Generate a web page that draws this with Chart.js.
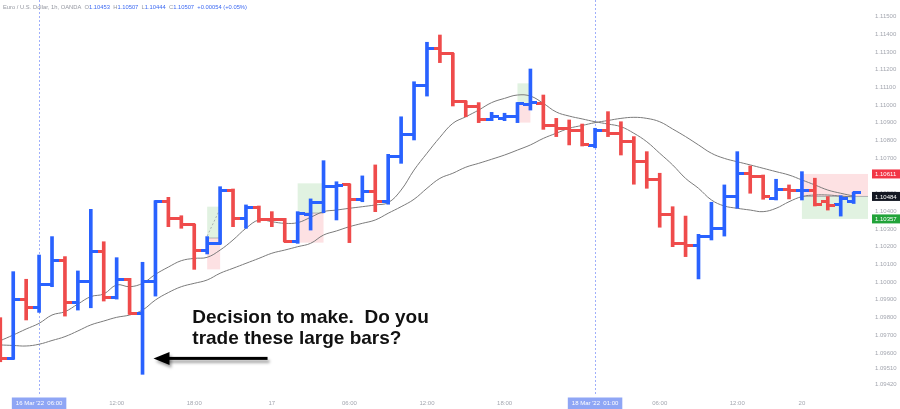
<!DOCTYPE html>
<html>
<head>
<meta charset="utf-8">
<script src="https://cdn.jsdelivr.net/npm/chart.js@4.4.1/dist/chart.umd.min.js"></script>
<style>
  html, body { margin: 0; padding: 0; background: #fff; }
</style>
</head>
<body>
<canvas id="chart" width="900" height="409"></canvas>
<script>
// EUR/USD 1h bars, 16 Mar '22 03:00 onwards (one entry per bar)
const opens = [
  1.09775, 1.09571, 1.09904, 1.09859, 1.09985, 1.10123, 1.09884, 1.10001, 1.10172, 1.09914,
  1.10012, 1.09824, 1.10002, 1.10454, 1.10357, 1.10323, 1.10180, 1.10219, 1.10520, 1.10360,
  1.10420, 1.10355, 1.10351, 1.10232, 1.10380, 1.10449, 1.10539, 1.10549, 1.10468, 1.10511,
  1.10454, 1.10712, 1.10835, 1.11110, 1.11321, 1.11289, 1.11019, 1.10991, 1.10920, 1.10925,
  1.10934, 1.11006, 1.11010, 1.10882, 1.10865, 1.10854, 1.10769, 1.10855, 1.10841, 1.10793,
  1.10680, 1.10581, 1.10383, 1.10219, 1.10206, 1.10257, 1.10304, 1.10483, 1.10611, 1.10596,
  1.10473, 1.10524, 1.10516, 1.10520, 1.10454, 1.10436, 1.10453
];
const highs = [
  1.09799, 1.10059, 1.10016, 1.10153, 1.10257, 1.10144, 1.10063, 1.10411, 1.10228, 1.10138,
  1.10021, 1.10112, 1.10460, 1.10479, 1.10375, 1.10327, 1.10257, 1.10539, 1.10526, 1.10436,
  1.10430, 1.10398, 1.10360, 1.10398, 1.10470, 1.10686, 1.10567, 1.10554, 1.10600, 1.10662,
  1.10722, 1.10934, 1.11132, 1.11355, 1.11396, 1.11293, 1.11023, 1.11014, 1.10959, 1.10954,
  1.11014, 1.11204, 1.11057, 1.10925, 1.10916, 1.10893, 1.10869, 1.10963, 1.10906, 1.10822,
  1.10737, 1.10615, 1.10426, 1.10373, 1.10270, 1.10451, 1.10549, 1.10737, 1.10656, 1.10605,
  1.10581, 1.10549, 1.10624, 1.10587, 1.10483, 1.10488, 1.10507
];
const lows = [
  1.09550, 1.09564, 1.09786, 1.09829, 1.09974, 1.09808, 1.09842, 1.09855, 1.09893, 1.09904,
  1.09818, 1.09479, 1.09921, 1.10313, 1.10304, 1.10072, 1.10159, 1.10215, 1.10313, 1.10304,
  1.10338, 1.10313, 1.10228, 1.10219, 1.10294, 1.10392, 1.10351, 1.10223, 1.10454, 1.10398,
  1.10440, 1.10671, 1.10803, 1.11051, 1.11240, 1.10995, 1.10934, 1.10901, 1.10912, 1.10912,
  1.10901, 1.10972, 1.10863, 1.10822, 1.10775, 1.10769, 1.10759, 1.10822, 1.10718, 1.10553,
  1.10530, 1.10310, 1.10200, 1.10144, 1.10018, 1.10238, 1.10260, 1.10417, 1.10502, 1.10468,
  1.10464, 1.10470, 1.10464, 1.10430, 1.10407, 1.10373, 1.10444
];
const closes = [
  1.09571, 1.09904, 1.09859, 1.09985, 1.10123, 1.09884, 1.10001, 1.10172, 1.09914, 1.10012,
  1.09824, 1.10002, 1.10454, 1.10357, 1.10323, 1.10180, 1.10219, 1.10520, 1.10360, 1.10420,
  1.10355, 1.10351, 1.10232, 1.10389, 1.10449, 1.10539, 1.10545, 1.10468, 1.10511, 1.10454,
  1.10712, 1.10835, 1.11110, 1.11321, 1.11289, 1.11019, 1.10991, 1.10920, 1.10934, 1.10938,
  1.11010, 1.11012, 1.10882, 1.10865, 1.10854, 1.10775, 1.10855, 1.10841, 1.10793, 1.10680,
  1.10581, 1.10383, 1.10219, 1.10206, 1.10257, 1.10304, 1.10483, 1.10611, 1.10596, 1.10483,
  1.10524, 1.10520, 1.10520, 1.10436, 1.10430, 1.10470, 1.10507
];

// moving averages
const fastMA = [
  1.09669, 1.09701, 1.09735, 1.09767, 1.09814, 1.09833, 1.09876, 1.09918, 1.09933, 1.09984,
  1.09974, 1.09993, 1.10044, 1.10085, 1.10121, 1.10134, 1.10140, 1.10181, 1.10238, 1.10304,
  1.10351, 1.10341, 1.10332, 1.10336, 1.10366, 1.10398, 1.10407, 1.10417, 1.10426, 1.10436,
  1.10449, 1.10520, 1.10633, 1.10728, 1.10818, 1.10897, 1.10934, 1.10972, 1.11014, 1.11038,
  1.11057, 1.11051, 1.11010, 1.10961, 1.10938, 1.10922, 1.10906, 1.10893, 1.10878, 1.10841,
  1.10793, 1.10728, 1.10662, 1.10586, 1.10530, 1.10464, 1.10430, 1.10417, 1.10407, 1.10398,
  1.10417, 1.10454, 1.10483, 1.10492, 1.10492, 1.10486, 1.10481
];
const slowMA = [
  1.09645, 1.09642, 1.09639, 1.09649, 1.09670, 1.09692, 1.09724, 1.09758, 1.09780, 1.09801,
  1.09814, 1.09842, 1.09899, 1.09941, 1.09974, 1.09993, 1.10012, 1.10050, 1.10078, 1.10106,
  1.10134, 1.10163, 1.10181, 1.10200, 1.10219, 1.10266, 1.10289, 1.10313, 1.10332, 1.10351,
  1.10389, 1.10426, 1.10468, 1.10530, 1.10586, 1.10615, 1.10649, 1.10671, 1.10694, 1.10718,
  1.10746, 1.10775, 1.10812, 1.10841, 1.10869, 1.10885, 1.10901, 1.10913, 1.10925, 1.10931,
  1.10925, 1.10906, 1.10865, 1.10822, 1.10775, 1.10728, 1.10699, 1.10680, 1.10662, 1.10643,
  1.10624, 1.10605, 1.10577, 1.10549, 1.10520, 1.10502, 1.10486
];

const timeTicks = [3, 9, 15, 21, 27, 33, 39, 46, 51, 57, 62];
const timeLabels = ["16 Mar '22  06:00", '12:00', '18:00', '17', '06:00', '12:00', '18:00',
                    "18 Mar '22  01:00", '06:00', '12:00', '20'];
const markedTimes = [3, 46];
const priceTicks = [1.115, 1.114, 1.113, 1.112, 1.111, 1.110, 1.109, 1.108, 1.107, 1.106, 1.105,
                    1.104, 1.103, 1.102, 1.101, 1.100, 1.099, 1.098, 1.097, 1.096, 1.0951, 1.0942];

// long / short position tools
const toolFrom  = [16, 23, 40, 62];
const toolTo    = [17, 25, 41, 67.2];
const toolUpper = [1.10426, 1.10558, 1.11123, 1.10611];
const toolEntry = [1.10249, 1.10390, 1.11006, 1.10484];
const toolLower = [1.10072, 1.10223, 1.10901, 1.10357];
const toolShort = [false, false, false, true];

const noteLines = ['Decision to make.  Do you', 'trade these large bars?'];

const upColor = '#2962ff';
const downColor = '#ef4b4b';
const FONT = '"Liberation Sans", Arial, sans-serif';

const idx = closes.map((c, i) => i);
const isUp = i => closes[i] >= opens[i];

function tickImage(color, side) {
    let c = document.createElement('canvas');
    c.width = 14;
    c.height = 3;
    let g = c.getContext('2d');
    g.fillStyle = color;
    if (side === 'open') g.fillRect(0, 0, 8, 3);
    else g.fillRect(6, 0, 8, 3);
    return c;
}
const openUp = tickImage(upColor, 'open'), openDown = tickImage(downColor, 'open');
const closeUp = tickImage(upColor, 'close'), closeDown = tickImage(downColor, 'close');

const overlay = {
    id: 'overlay',
    beforeDatasetsDraw(chart) {
        const {ctx, chartArea: a, scales: {x, y}} = chart;
        ctx.save();
        ctx.beginPath();
        ctx.rect(a.left, a.top, a.right - a.left, a.bottom - a.top);
        ctx.clip();
        toolFrom.forEach((f, k) => {
            let x0 = x.getPixelForValue(f), x1 = x.getPixelForValue(toolTo[k]);
            let yu = y.getPixelForValue(toolUpper[k]);
            let ye = y.getPixelForValue(toolEntry[k]);
            let yl = y.getPixelForValue(toolLower[k]);
            const green = 'rgba(76,175,80,0.17)', pink = 'rgba(242,54,69,0.15)';
            ctx.fillStyle = toolShort[k] ? pink : green;
            ctx.fillRect(x0, yu, x1 - x0, ye - yu);
            ctx.fillStyle = toolShort[k] ? green : pink;
            ctx.fillRect(x0, ye, x1 - x0, yl - ye);
            ctx.strokeStyle = 'rgba(120,123,134,0.55)';
            ctx.lineWidth = 1;
            ctx.beginPath();
            ctx.moveTo(x0, ye);
            ctx.lineTo(x1, ye);
            ctx.stroke();
            if (k === 0) {
                ctx.setLineDash([2, 2]);
                ctx.beginPath();
                ctx.moveTo(x0, ye - 2);
                ctx.lineTo(x1, yu + 2);
                ctx.stroke();
                ctx.setLineDash([]);
            }
        });
        ctx.restore();

        ctx.save();
        ctx.strokeStyle = 'rgba(80,110,245,0.55)';
        ctx.lineWidth = 1;
        ctx.setLineDash([2, 2]);
        markedTimes.forEach(t => {
            let px = Math.round(x.getPixelForValue(t)) + 0.5;
            ctx.beginPath();
            ctx.moveTo(px, 0);
            ctx.lineTo(px, a.bottom);
            ctx.stroke();
        });
        ctx.restore();
    },
    afterDraw(chart) {
        const {ctx, chartArea: a, scales: {x, y}} = chart;
        ctx.save();

        // price labels of the last position tool
        const k = 3;
        [[toolUpper[k], '#f23645'], [toolEntry[k], '#131722'], [toolLower[k], '#22a33a']].forEach(([p, col]) => {
            let py = y.getPixelForValue(p);
            ctx.fillStyle = col;
            ctx.fillRect(a.right + 4, py - 4.5, chart.width - a.right - 4, 9);
            ctx.fillStyle = '#ffffff';
            ctx.font = '6px ' + FONT;
            ctx.textBaseline = 'middle';
            ctx.textAlign = 'left';
            ctx.fillText(p.toFixed(5), a.right + 7, py + 0.5);
        });

        // header
        const gray = '#9598a1', blue = '#3d6af2';
        const parts = [['Euro / U.S. Dollar, 1h, OANDA  ', gray], ['O', gray], ['1.10453', blue],
                       ['  H', gray], ['1.10507', blue], ['  L', gray], ['1.10444', blue],
                       ['  C', gray], ['1.10507', blue], ['  +0.00054 (+0.05%)', blue]];
        ctx.font = '5.8px ' + FONT;
        ctx.textBaseline = 'middle';
        ctx.textAlign = 'left';
        let hx = 3;
        parts.forEach(([t, c]) => {
            ctx.fillStyle = c;
            ctx.fillText(t, hx, 7);
            hx += ctx.measureText(t).width;
        });

        // note and arrow
        ctx.fillStyle = '#111111';
        ctx.font = 'bold 19px ' + FONT;
        ctx.textBaseline = 'alphabetic';
        ctx.fillText(noteLines[0], x.getPixelForValue(14.85), y.getPixelForValue(1.09769));
        ctx.fillText(noteLines[1], x.getPixelForValue(14.85), y.getPixelForValue(1.09653));

        let tipX = x.getPixelForValue(11.85), endX = x.getPixelForValue(20.67);
        let ay = y.getPixelForValue(1.09569);
        ctx.shadowColor = 'rgba(0,0,0,0.35)';
        ctx.shadowBlur = 3;
        ctx.shadowOffsetX = 2;
        ctx.shadowOffsetY = 3;
        ctx.fillStyle = '#000000';
        ctx.fillRect(tipX + 12, ay - 1.5, endX - tipX - 12, 3);
        ctx.beginPath();
        ctx.moveTo(tipX, ay);
        ctx.lineTo(tipX + 16, ay - 6.5);
        ctx.lineTo(tipX + 16, ay + 6.5);
        ctx.closePath();
        ctx.fill();
        ctx.restore();
    }
};

new Chart(document.getElementById('chart'), {
    type: 'bar',
    data: {
        datasets: [
            {
                type: 'line',
                data: idx.map(i => ({x: i, y: fastMA[i]})),
                borderColor: '#7b7b7b',
                borderWidth: 1,
                pointRadius: 0,
                tension: 0.4,
                order: 4
            },
            {
                type: 'line',
                data: idx.map(i => ({x: i, y: slowMA[i]})),
                borderColor: '#7b7b7b',
                borderWidth: 1,
                pointRadius: 0,
                tension: 0.4,
                order: 3
            },
            {
                type: 'bar',
                data: idx.map(i => ({x: i, y: [lows[i], highs[i]]})),
                backgroundColor: idx.map(i => isUp(i) ? upColor : downColor),
                barThickness: 3,
                borderWidth: 0,
                order: 2
            },
            {
                type: 'line',
                showLine: false,
                data: idx.map(i => ({x: i, y: opens[i]})),
                pointStyle: c => isUp(c.dataIndex) ? openUp : openDown,
                pointRadius: 3,
                order: 1
            },
            {
                type: 'line',
                showLine: false,
                data: idx.map(i => ({x: i, y: closes[i]})),
                pointStyle: c => isUp(c.dataIndex) ? closeUp : closeDown,
                pointRadius: 3,
                order: 0
            }
        ]
    },
    options: {
        responsive: false,
        animation: false,
        layout: { padding: 0, autoPadding: false },
        plugins: {
            legend: { display: false },
            tooltip: { enabled: false }
        },
        scales: {
            x: {
                type: 'linear',
                offset: false,
                min: -0.023,
                max: 67.11,
                grid: { display: false, drawTicks: false },
                border: { display: false },
                afterBuildTicks: s => { s.ticks = timeTicks.map(v => ({value: v})); },
                afterFit: s => { s.height = 13; s.paddingLeft = 0; s.paddingRight = 0; },
                ticks: {
                    autoSkip: false,
                    maxRotation: 0,
                    padding: 4,
                    font: { size: 6, family: FONT },
                    color: c => markedTimes.includes(c.tick.value) ? '#ffffff' : '#a3a6af',
                    showLabelBackdrop: c => markedTimes.includes(c.tick.value),
                    backdropColor: '#8fa6f5',
                    backdropPadding: { x: 4, y: 2.5 },
                    callback: v => timeLabels[timeTicks.indexOf(v)]
                }
            },
            y: {
                position: 'right',
                min: 1.093565,
                max: 1.115938,
                grid: { display: false, drawTicks: false },
                border: { display: false },
                afterBuildTicks: s => { s.ticks = priceTicks.map(v => ({value: v})); },
                afterFit: s => { s.width = 32; s.paddingTop = 0; s.paddingBottom = 0; },
                ticks: {
                    autoSkip: false,
                    padding: 7,
                    font: { size: 6, family: FONT },
                    color: '#a3a6af',
                    callback: v => v.toFixed(5)
                }
            }
        }
    },
    plugins: [overlay]
});
</script>
</body>
</html>
